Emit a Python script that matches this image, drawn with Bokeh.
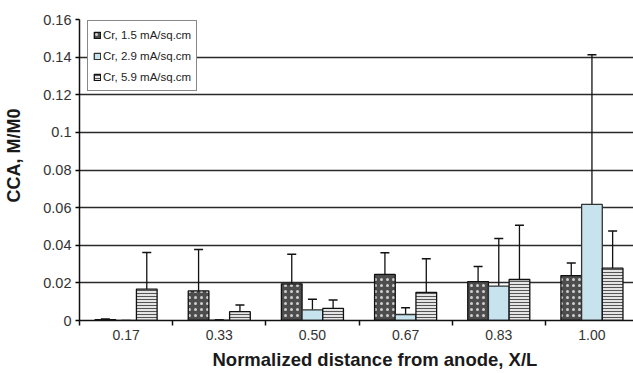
from bokeh.plotting import figure
from bokeh.models import (ColumnDataSource, Range1d, FixedTicker, Whisker, TeeHead,
                          Legend, LegendItem, Title)
from bokeh.embed import file_html
from bokeh.resources import INLINE

# ---- data ----
categories = ["0.17", "0.33", "0.50", "0.67", "0.83", "1.00"]
series_names = ["Cr, 1.5 mA/sq.cm", "Cr, 2.9 mA/sq.cm", "Cr, 5.9 mA/sq.cm"]
s1 = [0.0004, 0.0157, 0.0195, 0.0245, 0.0207, 0.0239]
s1_err = [0.0004, 0.0220, 0.0157, 0.0115, 0.0080, 0.0066]
s2 = [0.0, 0.0002, 0.0057, 0.0032, 0.0183, 0.0617]
s2_err = [0.0, 0.0002, 0.0056, 0.0036, 0.0253, 0.0796]
s3 = [0.0167, 0.0047, 0.0064, 0.0150, 0.0218, 0.0278]
s3_err = [0.0195, 0.0035, 0.0045, 0.0178, 0.0288, 0.0198]
y_ticks = [0, 0.02, 0.04, 0.06, 0.08, 0.10, 0.12, 0.14, 0.16]
y_tick_labels = ["0", "0.02", "0.04", "0.06", "0.08", "0.1", "0.12", "0.14", "0.16"]
x_title = "Normalized distance from anode, X/L"
y_title = "CCA, M/M0"

FONT = "Liberation Sans"
BAR_W = 0.222
offsets = [-BAR_W, 0.0, BAR_W]

p = figure(width=633, height=373, output_backend="svg", toolbar_location=None,
           x_range=Range1d(0, 5.946), y_range=Range1d(0, 0.16),
           min_border_left=79, min_border_right=0, min_border_top=19,
           min_border_bottom=53)
p.outline_line_color = None
p.background_fill_color = "white"
p.border_fill_color = "white"

centers = [i + 0.5 for i in range(len(categories))]

styles = [
    dict(fill_color="#4d4d4d", line_color="#111111", hatch_pattern="dot",
         hatch_color="#cfcfcf", hatch_scale=6, hatch_weight=1.1),
    dict(fill_color="#c6e3ee", line_color="#333333"),
    dict(fill_color="#e4e4e4", line_color="#111111", hatch_pattern="horizontal_line",
         hatch_color="#555555", hatch_scale=3, hatch_weight=1),
]

renderers = []
for vals, off, st in zip([s1, s2, s3], offsets, styles):
    xs = [c + off for c in centers]
    src = ColumnDataSource(dict(x=xs, top=vals))
    r = p.vbar(x="x", top="top", width=BAR_W, source=src, line_width=1.3, **st)
    renderers.append(r)

# error bars (drawn over the bars)
for vals, errs, off in zip([s1, s2, s3], [s1_err, s2_err, s3_err], offsets):
    xs = [c + off for c in centers]
    up = ColumnDataSource(dict(base=xs, upper=[v + e for v, e in zip(vals, errs)], lower=vals))
    p.add_layout(Whisker(base="base", upper="upper", lower="lower", source=up,
                         line_color="#111111", line_width=1.3,
                         upper_head=TeeHead(size=9, line_color="#111111", line_width=1.5),
                         lower_head=None))
    bx, bu, bl = [], [], []
    cx, cu, cl = [], [], []
    for x, v, e in zip(xs, vals, errs):
        if e <= 0:
            continue
        if v - e > 0:
            bx.append(x); bu.append(v); bl.append(v - e)
        else:
            cx.append(x); cu.append(v); cl.append(0.0)
    p.add_layout(Whisker(base="base", upper="upper", lower="lower",
                         source=ColumnDataSource(dict(base=bx, upper=bu, lower=bl)),
                         line_color="#111111", line_width=1.3, upper_head=None,
                         lower_head=TeeHead(size=9, line_color="#111111", line_width=1.5)))
    p.add_layout(Whisker(base="base", upper="upper", lower="lower",
                         source=ColumnDataSource(dict(base=cx, upper=cu, lower=cl)),
                         line_color="#111111", line_width=1.3, upper_head=None,
                         lower_head=None))

# axes
p.xgrid.grid_line_color = None
p.ygrid.ticker = FixedTicker(ticks=y_ticks)
p.ygrid.grid_line_color = "#2a2a2a"
p.ygrid.grid_line_width = 1.5

p.yaxis.ticker = FixedTicker(ticks=y_ticks)
p.yaxis.major_label_overrides = {t: l for t, l in zip(y_ticks, y_tick_labels)}
p.yaxis.minor_tick_line_color = None
p.yaxis.major_tick_in = 0
p.yaxis.major_tick_out = 4
p.yaxis.axis_line_width = 1.5
p.yaxis.major_tick_line_width = 1.5
p.yaxis.axis_line_color = "#111111"
p.yaxis.major_label_standoff = 4
p.yaxis.major_label_text_font_size = "14.5px"
# blank spacer label to push the side title outward
p.yaxis.axis_label = " "
p.yaxis.axis_label_text_font_size = "1px"
p.yaxis.axis_label_standoff = 13

p.xaxis.ticker = FixedTicker(ticks=centers, minor_ticks=list(range(len(categories) + 1)))
p.xaxis.major_label_overrides = {c: l for c, l in zip(centers, categories)}
p.xaxis.major_tick_in = 0
p.xaxis.major_tick_out = 0
p.xaxis.minor_tick_in = 0
p.xaxis.minor_tick_out = 5
p.xaxis.minor_tick_line_width = 1.5
p.xaxis.minor_tick_line_color = "#111111"
p.xaxis.axis_line_width = 1.5
p.xaxis.axis_line_color = "#111111"
p.xaxis.major_label_standoff = 4
p.xaxis.major_label_text_font_size = "14px"

for ax in (p.xaxis, p.yaxis):
    ax.major_label_text_font = FONT
    ax.major_label_text_color = "#333333"

# axis titles as side titles, offset to match the reference
p.add_layout(Title(text=x_title, align="left", offset=133, standoff=8,
                   text_font=FONT, text_font_size="18.5px", text_font_style="bold",
                   text_color="#1a1a1a"), "below")
p.add_layout(Title(text=y_title, align="left", offset=118, standoff=0,
                   text_font=FONT, text_font_size="18px", text_font_style="bold",
                   text_color="#1a1a1a"), "left")

legend = Legend(items=[LegendItem(label=n, renderers=[r]) for n, r in zip(series_names, renderers)],
                location=(8, 229))
legend.label_text_font = FONT
legend.label_text_font_size = "11.5px"
legend.label_text_color = "#222222"
legend.glyph_width = 8
legend.glyph_height = 8
legend.label_height = 17
legend.label_standoff = 2
legend.spacing = 4
legend.padding = 5
legend.margin = 0
legend.border_line_color = "#111111"
legend.border_line_width = 1.5
legend.background_fill_alpha = 1.0
p.add_layout(legend, "center")

open("out.html", "w").write(file_html(p, INLINE))
